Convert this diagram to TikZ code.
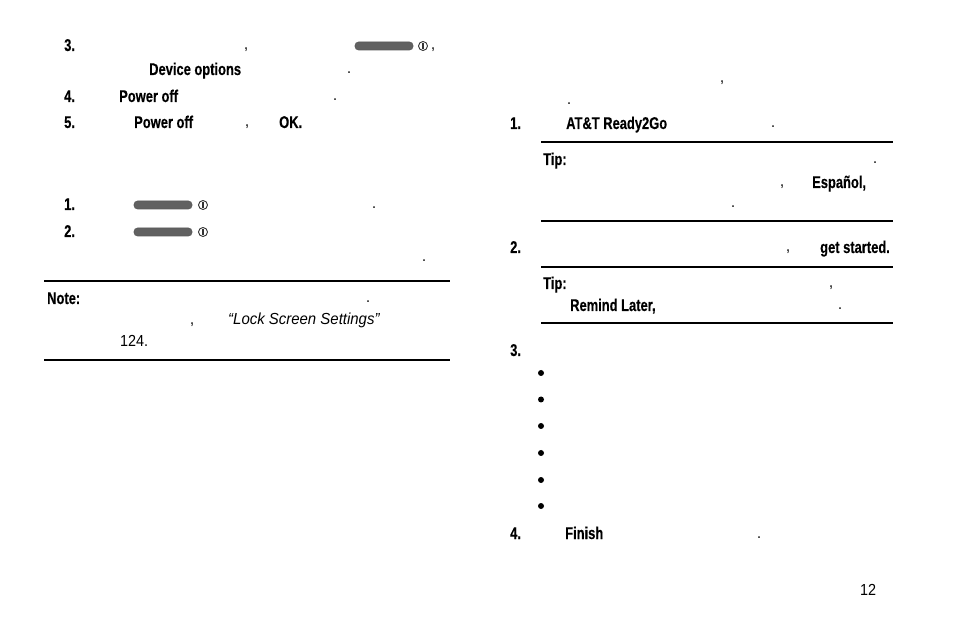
\documentclass[tikz,border=0pt]{standalone}
\usepackage{fontspec}
\setmainfont[FakeStretch=0.90, ItalicFeatures={FakeStretch=0.935}]{Liberation Sans}
\newfontfamily\labelfont[FakeStretch=0.76, BoldFeatures={FakeBold=0.3}]{Liberation Sans}
\tikzstyle{plain} = [anchor=base west, inner sep=0pt, font=\fontsize{16}{18}\selectfont, text=black]
\tikzstyle{label} = [plain, yshift=-1pt, font=\fontsize{17}{19}\selectfont\labelfont\bfseries]
\tikzstyle{rule} = [line width=2pt, black]
\tikzstyle{pill} = [rectangle, rounded corners=3.5pt, minimum width=58pt, minimum height=8pt, inner sep=0pt, draw=black!65, line width=0.6pt, fill=black!62]
\tikzstyle{powerring} = [circle, minimum size=9pt, inner sep=0pt, draw=black!80, line width=0.9pt]
\tikzstyle{powerbar} = [rectangle, minimum width=1.4pt, minimum height=6pt, inner sep=0pt, fill=black!80]
\tikzstyle{dotitem} = [circle, minimum size=6pt, inner sep=0pt, fill=black]

\begin{document}
\begin{tikzpicture}[x=1pt, y=-1pt]
	\useasboundingbox (0,0) rectangle (954,636);

	% left steps
	\node [label] (shutThree) at (64,50) {3.};
	\node [plain] (shutComma) at (244,50) {,};
	\node [pill] (pillA) at (384,46) {};
	\node [powerring] (ringA) at (423,46) {};
	\node [powerbar] (barA) at (423,46) {};
	\node [plain] (pillComma) at (431,50) {,};
	\node [label] (device) at (149,74) {Device options};
	\node [plain] (deviceDot) at (347,74) {.};
	\node [label] (shutFour) at (64,101) {4.};
	\node [label] (powerA) at (119,101) {Power off};
	\node [plain] (powerADot) at (333,101) {.};
	\node [label] (shutFive) at (64,127) {5.};
	\node [label] (powerB) at (134,127) {Power off};
	\node [plain] (powerBComma) at (245,127) {,};
	\node [label] (okay) at (279,127) {OK.};

	\node [label] (wakeOne) at (64,209) {1.};
	\node [pill] (pillB) at (163,205) {};
	\node [powerring] (ringB) at (203,205) {};
	\node [powerbar] (barB) at (203,205) {};
	\node [plain] (wakeOneDot) at (372,209) {.};
	\node [label] (wakeTwo) at (64,236) {2.};
	\node [pill] (pillC) at (163,232) {};
	\node [powerring] (ringC) at (203,232) {};
	\node [powerbar] (barC) at (203,232) {};
	\node [plain] (wakeTwoDot) at (422,262) {.};

	% note
	\coordinate (noteTopL) at (44,281);
	\coordinate (noteTopR) at (450,281);
	\node [label] (note) at (47,303) {Note:};
	\node [plain] (noteDot) at (366,303) {.};
	\node [plain] (noteComma) at (190,325) {,};
	\node [plain, font=\fontsize{16}{18}\selectfont\itshape] (lockRef) at (228,325) {“Lock Screen Settings”};
	\node [plain] (notePage) at (120,347) {124.};
	\coordinate (noteBotL) at (44,360);
	\coordinate (noteBotR) at (450,360);

	% right steps
	\node [plain] (introComma) at (720,83) {,};
	\node [plain] (introDot) at (567,105) {.};
	\node [label] (setupOne) at (510,128) {1.};
	\node [label] (ready) at (566,128) {AT\&T Ready2Go};
	\node [plain] (readyDot) at (771,128) {.};

	% first tip
	\coordinate (tipATopL) at (541,142);
	\coordinate (tipATopR) at (893,142);
	\node [label] (tipA) at (543,164) {Tip:};
	\node [plain] (tipADot) at (873,164) {.};
	\node [plain] (tipAComma) at (780,187) {,};
	\node [label] (espanol) at (812,187) {Español,};
	\node [plain] (tipAEnd) at (731,208) {.};
	\coordinate (tipABotL) at (541,221);
	\coordinate (tipABotR) at (893,221);

	\node [label] (setupTwo) at (510,252) {2.};
	\node [plain] (startComma) at (786,252) {,};
	\node [label] (started) at (820,252) {get started.};

	% second tip
	\coordinate (tipBTopL) at (541,267);
	\coordinate (tipBTopR) at (893,267);
	\node [label] (tipB) at (543,288) {Tip:};
	\node [plain] (tipBComma) at (829,288) {,};
	\node [label] (remind) at (570,310) {Remind Later,};
	\node [plain] (tipBDot) at (838,310) {.};
	\coordinate (tipBBotL) at (541,323);
	\coordinate (tipBBotR) at (893,323);

	\node [label] (setupThree) at (510,355) {3.};
	\node [dotitem] (itemA) at (541,373) {};
	\node [dotitem] (itemB) at (541,399.5) {};
	\node [dotitem] (itemC) at (541,426) {};
	\node [dotitem] (itemD) at (541,453) {};
	\node [dotitem] (itemE) at (541,480) {};
	\node [dotitem] (itemF) at (541,506) {};
	\node [label] (setupFour) at (510,538) {4.};
	\node [label] (finish) at (565,538) {Finish};
	\node [plain] (finishDot) at (757,538) {.};

	\node [plain] (pageNum) at (860,595) {12};

	% rules
	\draw [rule] (noteTopL) -- (noteTopR);
	\draw [rule] (noteBotL) -- (noteBotR);
	\draw [rule] (tipATopL) -- (tipATopR);
	\draw [rule] (tipABotL) -- (tipABotR);
	\draw [rule] (tipBTopL) -- (tipBTopR);
	\draw [rule] (tipBBotL) -- (tipBBotR);
\end{tikzpicture}
\end{document}
